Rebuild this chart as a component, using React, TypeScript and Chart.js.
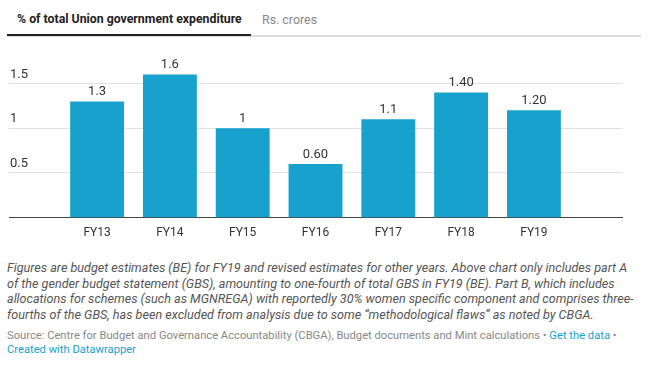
import React, { useEffect, useRef } from "react";
import { Chart, registerables } from "chart.js";

Chart.register(...registerables);

const categories = ["FY13", "FY14", "FY15", "FY16", "FY17", "FY18", "FY19"];
const values = [1.3, 1.6, 1, 0.6, 1.1, 1.4, 1.2];
const valueLabels = ["1.3", "1.6", "1", "0.60", "1.1", "1.40", "1.20"];
const yTicks = [0.5, 1, 1.5];
const yTickLabels = ["0.5", "1", "1.5"];

const FONT = "Roboto, 'Noto Sans', sans-serif";

const noteLines = [
  "Figures are budget estimates (BE) for FY19 and revised estimates for other years. Above chart only includes part A",
  "of the gender budget statement (GBS), amounting to one-fourth of total GBS in FY19 (BE). Part B, which includes",
  "allocations for schemes (such as MGNREGA) with reportedly 30% women specific component and comprises three-",
  "fourths of the GBS, has been excluded from analysis due to some \u201cmethodological flaws\u201d as noted by CBGA.",
];

const valueLabelPlugin = {
  id: "valueLabels",
  afterDatasetsDraw(chart: any) {
    const ctx = chart.ctx;
    const meta = chart.getDatasetMeta(0);
    ctx.save();
    ctx.font = `13px ${FONT}`;
    ctx.fillStyle = "#333333";
    ctx.textAlign = "center";
    ctx.textBaseline = "middle";
    meta.data.forEach((bar: any, i: number) => {
      ctx.fillText(valueLabels[i], bar.x, bar.y - 9.5);
    });
    ctx.restore();
  },
};

function BarChart() {
  const ref = useRef<HTMLCanvasElement>(null);
  useEffect(() => {
    if (!ref.current) return;
    const chart = new Chart(ref.current, {
      type: "bar",
      data: {
        datasets: [
          {
            data: categories.map((c, i) => ({ x: i, y: values[i] })),
            backgroundColor: "#18a1cd",
            borderWidth: 0,
            barPercentage: 0.74,
            categoryPercentage: 1,
          },
        ],
      },
      options: {
        animation: false,
        responsive: false,
        maintainAspectRatio: false,
        layout: { padding: { left: 7, right: 28, top: 6, bottom: 7 } },
        plugins: { legend: { display: false }, tooltip: { enabled: false } },
        scales: {
          x: {
            type: "linear",
            offset: false,
            min: -1.21,
            max: 7.21,
            afterBuildTicks: (axis: any) => {
              axis.ticks = categories.map((_, i) => ({ value: i }));
            },
            grid: { display: false, drawTicks: false, offset: false },
            border: { display: true, color: "#444444", width: 1 },
            ticks: {
              autoSkip: false,
              maxRotation: 0,
              padding: 8,
              color: "#333333",
              font: { family: FONT, size: 12 },
              callback: (v: any) => categories[v] ?? "",
            },
          },
          y: {
            min: 0,
            max: 2,
            afterBuildTicks: (axis: any) => {
              axis.ticks = yTicks.map((v) => ({ value: v }));
            },
            grid: { color: "#e0e0e0", lineWidth: 1, drawTicks: false },
            border: { display: false },
            ticks: {
              mirror: true,
              padding: 1,
              labelOffset: -9,
              color: "#333333",
              font: { family: FONT, size: 13 },
              callback: (v: any) => {
                const i = yTicks.indexOf(v);
                return i >= 0 ? yTickLabels[i] : "";
              },
            },
          },
        },
      },
      plugins: [valueLabelPlugin],
    } as any);
    return () => chart.destroy();
  }, []);
  return (
    <canvas
      ref={ref}
      width={650}
      height={225}
      style={{ position: "absolute", left: 0, top: 30, width: 650, height: 225 }}
    />
  );
}

export default function App() {
  return (
    <div
      style={{
        position: "absolute",
        left: 0,
        top: 0,
        width: 650,
        height: 365,
        background: "#ffffff",
        fontFamily: FONT,
        overflow: "hidden",
      }}
    >
      {/* tabs */}
      <div style={{ position: "absolute", left: 7, top: 35, width: 634, height: 2, background: "#dcdcdc" }} />
      <div style={{ position: "absolute", left: 7, top: 34, width: 244, height: 2, background: "#222222" }} />
      <div
        style={{
          position: "absolute",
          left: 17,
          top: 12,
          fontSize: 12.3,
          fontWeight: 700,
          color: "#222222",
          whiteSpace: "nowrap",
        }}
      >
        % of total Union government expenditure
      </div>
      <div
        style={{
          position: "absolute",
          left: 262,
          top: 12,
          fontSize: 12.4,
          color: "#888888",
          whiteSpace: "nowrap",
        }}
      >
        Rs. crores
      </div>
      <BarChart />
      {/* notes */}
      <div
        style={{
          position: "absolute",
          left: 7,
          top: 260,
          fontSize: 12.6,
          fontStyle: "italic",
          color: "#555555",
          lineHeight: "15.7px",
          whiteSpace: "nowrap",
        }}
      >
        {noteLines.map((l, i) => (
          <div key={i}>{l}</div>
        ))}
      </div>
      <div
        style={{
          position: "absolute",
          left: 7,
          top: 329,
          fontSize: 11.2,
          color: "#888888",
          lineHeight: "14px",
          whiteSpace: "nowrap",
        }}
      >
        <div>
          Source: Centre for Budget and Governance Accountability (CBGA), Budget documents and Mint calculations •{" "}
          <span style={{ color: "#18a1cd" }}>Get the data</span> •
        </div>
        <div style={{ color: "#18a1cd" }}>Created with Datawrapper</div>
      </div>
    </div>
  );
}
